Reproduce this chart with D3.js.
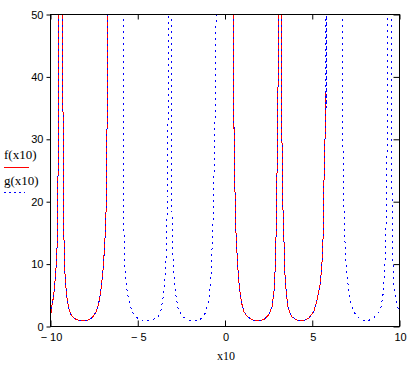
<!DOCTYPE html>
<html>
<head>
<meta charset="utf-8">
<script src="https://cdn.jsdelivr.net/npm/d3@7"></script>
<style>
  body { margin: 0; background: #fff; }
  svg { display: block; }
</style>
</head>
<body>
<script>
// curve pieces, [x10, value]; values above 50 run off the top
var branchA = [[-10, 1.9], [-9.96, 2.2], [-9.9, 3.7], [-9.83, 4.7], [-9.76, 6.6], [-9.69, 9], [-9.65, 11],
  [-9.62, 13], [-9.6, 19], [-9.57, 24], [-9.545, 30], [-9.525, 55]];
var branchB = [[-9.30, 55], [-9.285, 35], [-9.265, 28], [-9.24, 16], [-9.22, 13], [-9.18, 9], [-9.14, 7],
  [-9.08, 5.2], [-9.01, 3.7], [-8.92, 2.6], [-8.82, 1.9], [-8.7, 1.45], [-8.55, 1.15], [-8.4, 1.0],
  [-8.2, 0.95], [-8.0, 0.97], [-7.85, 1.05], [-7.7, 1.25], [-7.55, 1.6], [-7.4, 2.3], [-7.27, 3.3],
  [-7.15, 5.0], [-7.07, 6.8], [-6.98, 9.3], [-6.92, 12], [-6.86, 15], [-6.81, 19], [-6.78, 26],
  [-6.76, 32], [-6.74, 40], [-6.72, 55]];
var branchC = [[0.49, 55], [0.51, 33], [0.57, 22], [0.63, 15], [0.70, 11.2], [0.77, 8], [0.84, 5.9],
  [0.95, 3.8], [1.08, 2.4], [1.27, 1.6], [1.56, 1.05], [1.85, 0.9], [2.22, 1.1], [2.51, 1.9],
  [2.70, 3.2], [2.82, 5.9], [2.89, 10.2], [2.95, 17.6], [3.01, 31], [3.05, 41.5], [3.08, 55]];
var branchD = [[3.24, 55], [3.26, 31], [3.31, 20], [3.37, 14.7], [3.43, 8.6], [3.51, 5.4], [3.62, 3],
  [3.81, 1.6], [4.14, 1.0], [4.42, 0.88], [4.80, 1.3], [5.09, 2.4], [5.28, 4.3], [5.47, 7],
  [5.57, 10.7], [5.63, 15], [5.68, 24.6], [5.74, 31], [5.78, 37.4]];
// pieces where only g shows
var spikeE = [[5.78, 37.4], [5.80, 70], [5.82, 35], [5.84, 70]];
var branchF = [[-5.81, 55], [-5.79, 15], [-5.74, 9.6], [-5.60, 5.4], [-5.42, 3.2], [-5.23, 1.9],
  [-4.94, 1.2], [-4.56, 0.85], [-4.17, 1.1], [-3.89, 1.4], [-3.70, 2.2], [-3.56, 4.3], [-3.45, 7.0],
  [-3.35, 12.3], [-3.28, 25.6], [-3.22, 55]];
var branchG = [[-3.08, 55], [-3.05, 20], [-2.97, 9.6], [-2.84, 5.4], [-2.70, 3], [-2.45, 1.6],
  [-2.07, 1.0], [-1.75, 0.85], [-1.40, 1.2], [-1.12, 2.2], [-0.93, 4.3], [-0.79, 8.6], [-0.68, 17.6],
  [-0.58, 31], [-0.49, 55]];
var branchH = [[6.74, 55], [6.76, 28.8], [6.81, 19.8], [6.87, 13.9], [6.95, 9.6], [7.04, 7], [7.15, 4.3],
  [7.29, 3], [7.48, 1.9], [7.77, 1.1], [8.11, 0.85], [8.43, 1.2], [8.72, 1.9], [8.95, 3.2],
  [9.07, 5.4], [9.16, 9.6], [9.24, 17.6], [9.30, 31], [9.35, 55]];
var branchI = [[9.54, 55], [9.56, 25.6], [9.60, 12.3], [9.67, 7], [9.79, 4.3], [9.91, 3], [10, 2.3]];

var fPieces = [branchA, branchB, branchC, branchD];
var gPieces = [branchA, branchB, branchC, branchD, spikeE, branchF, branchG, branchH, branchI];

var xTicks = [-10, -5, 0, 5, 10];
var yTicks = [0, 10, 20, 30, 40, 50];
var xTitle = "x10";
var legendNames = ["f(x10)", "g(x10)"];

var W = 418, H = 365;
// plot box (window.top is taken, so p-prefixed names)
var pLeft = 50.5, pRight = 399.5, pTop = 14.5, pBottom = 326.5;

var svg = d3.select("body").append("svg")
    .attr("width", W)
    .attr("height", H);

var x = d3.scaleLinear().domain([-10, 10]).range([pLeft, pRight]);
var y = d3.scaleLinear().domain([0, 50]).range([pBottom, pTop]);

svg.append("clipPath").attr("id", "plot")
  .append("rect")
    .attr("x", pLeft).attr("y", pTop)
    .attr("width", pRight - pLeft).attr("height", pBottom - pTop);

var line = d3.line()
    .x(function(d) { return x(d[0]); })
    .y(function(d) { return y(d[1]); });

var curves = svg.append("g")
    .attr("clip-path", "url(#plot)")
    .attr("shape-rendering", "crispEdges");

// f: red solid
curves.selectAll("path.f")
    .data(fPieces)
  .enter().append("path")
    .attr("class", "f")
    .attr("d", line)
    .attr("fill", "none")
    .attr("stroke", "#ff0000")
    .attr("stroke-width", 1);

// g: blue dotted, on top
curves.selectAll("path.g")
    .data(gPieces)
  .enter().append("path")
    .attr("class", "g")
    .attr("d", line)
    .attr("fill", "none")
    .attr("stroke", "#0000ff")
    .attr("stroke-width", 1)
    .attr("stroke-dasharray", "2,4");

// frame
svg.append("rect")
    .attr("x", pLeft).attr("y", pTop)
    .attr("width", pRight - pLeft).attr("height", pBottom - pTop)
    .attr("fill", "none")
    .attr("stroke", "#000");

// axes
var tickFont = "'Liberation Sans', Arial, sans-serif";

svg.append("g")
    .attr("transform", "translate(0," + pBottom + ")")
    .call(d3.axisTop(x).tickValues(xTicks).tickSize(6).tickFormat(""))
  .select(".domain").remove();

svg.append("g")
    .attr("transform", "translate(0," + pTop + ")")
    .call(d3.axisBottom(x).tickValues(xTicks).tickSize(5).tickFormat(""))
  .select(".domain").remove();

var yAxis = svg.append("g")
    .attr("transform", "translate(" + pLeft + ",0)")
    .call(d3.axisLeft(y).tickValues(yTicks).tickSize(4).tickPadding(3)
      .tickFormat(function(d) { return d; }));
yAxis.select(".domain").remove();
yAxis.selectAll("text")
    .attr("font-family", tickFont)
    .attr("font-size", 11)
    .attr("fill", "#000");

svg.append("g")
    .attr("transform", "translate(" + pRight + ",0)")
    .call(d3.axisLeft(y).tickValues(yTicks).tickSize(6).tickFormat(""))
  .select(".domain").remove();

svg.selectAll(".tick line").attr("stroke", "#000");

// x tick labels below the frame
svg.append("g").selectAll("text")
    .data(xTicks)
  .enter().append("text")
    .attr("x", function(d) { return x(d) + 1; })
    .attr("y", 341)
    .attr("text-anchor", "middle")
    .attr("font-family", tickFont)
    .attr("font-size", 11)
    .text(function(d) { return d < 0 ? "\u2212 " + Math.abs(d) : d; });

svg.append("text")
    .attr("x", 226)
    .attr("y", 360)
    .attr("text-anchor", "middle")
    .attr("font-family", "'Liberation Serif', 'Times New Roman', serif")
    .attr("font-size", 12)
    .text(xTitle);

// legend at the left
var legend = svg.append("g");
legend.append("text")
    .attr("x", 4).attr("y", 159)
    .attr("font-family", "'Liberation Serif', 'Times New Roman', serif")
    .attr("font-size", 13)
    .text(legendNames[0]);
legend.append("line")
    .attr("x1", 4).attr("x2", 29)
    .attr("y1", 167.5).attr("y2", 167.5)
    .attr("stroke", "#ff0000");
legend.append("text")
    .attr("x", 4).attr("y", 185)
    .attr("font-family", "'Liberation Serif', 'Times New Roman', serif")
    .attr("font-size", 13)
    .text(legendNames[1]);
legend.append("line")
    .attr("x1", 4).attr("x2", 25)
    .attr("y1", 192.5).attr("y2", 192.5)
    .attr("stroke", "#0000ff")
    .attr("stroke-dasharray", "2,3");
</script>
</body>
</html>
